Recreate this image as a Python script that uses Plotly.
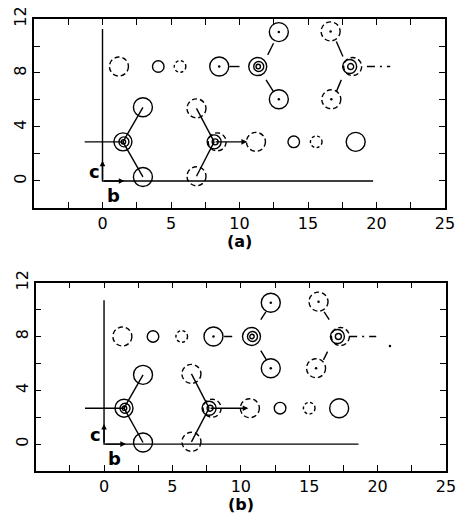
import plotly.graph_objects as go

# ---------------- data (panel a) ----------------
A_LARGE_SOLID_X = [8.52, 12.87, 12.87, 2.95, 2.95, 18.48]
A_LARGE_SOLID_Y = [8.48, 11.03, 6.05, 5.46, 0.30, 2.90]
A_LARGE_DASHED_X = [1.20, 16.65, 16.70, 6.86, 6.86, 11.20]
A_LARGE_DASHED_Y = [8.48, 11.08, 6.05, 5.38, 0.35, 2.90]
A_SMALL_SOLID_X = [4.07, 13.96]
A_SMALL_SOLID_Y = [8.48, 2.90]
A_SMALL_DASHED_X = [5.66, 15.60]
A_SMALL_DASHED_Y = [8.48, 2.90]
A_COMPLEX_SOLID_X = [11.33, 1.49]
A_COMPLEX_SOLID_Y = [8.48, 2.90]
A_COMPLEX_DASHED_X = [18.04, 8.15]
A_COMPLEX_DASHED_Y = [8.48, 2.90]
A_CENTER_DOT_X = [8.52, 12.87, 12.87, 16.65, 16.70]
A_CENTER_DOT_Y = [8.48, 11.03, 6.05, 11.08, 6.05]
# bonds: (x0, y0, x1, y1)
A_BONDS_SOLID = [(-1.30, 2.90, 1.49, 2.90), (1.49, 2.90, 2.95, 5.46), (1.49, 2.90, 2.95, 0.30),
                 (8.15, 2.90, 6.86, 5.38), (8.15, 2.90, 6.86, 0.35),
                 (9.26, 8.48, 10.00, 8.48), (12.06, 9.34, 12.48, 10.20), (11.94, 7.49, 12.48, 6.62),
                 (17.55, 9.22, 17.07, 10.33), (17.43, 7.49, 17.07, 6.62)]
A_BONDS_DASHED = [(19.30, 8.48, 21.00, 8.48)]
A_ARROW = (8.15, 2.90, 10.55, 2.90)
A_AXIS_B_END = 19.75
A_AXIS_C_END = 11.25

# ---------------- data (panel b) ----------------
B_LARGE_SOLID_X = [8.00, 12.19, 12.19, 2.85, 2.85, 17.19]
B_LARGE_SOLID_Y = [8.00, 10.51, 5.64, 5.15, 0.12, 2.67]
B_LARGE_DASHED_X = [1.34, 15.68, 15.50, 6.39, 6.39, 10.66]
B_LARGE_DASHED_Y = [8.00, 10.59, 5.64, 5.22, 0.17, 2.67]
B_SMALL_SOLID_X = [3.58, 12.87]
B_SMALL_SOLID_Y = [8.00, 2.67]
B_SMALL_DASHED_X = [5.68, 15.00]
B_SMALL_DASHED_Y = [8.00, 2.67]
B_COMPLEX_SOLID_X = [10.78, 1.46]
B_COMPLEX_SOLID_Y = [8.00, 2.67]
B_COMPLEX_DASHED_X = [17.06, 7.68]
B_COMPLEX_DASHED_Y = [8.00, 2.67]
B_CENTER_DOT_X = [8.00, 12.19, 12.19, 15.68, 15.50, 20.90]
B_CENTER_DOT_Y = [8.00, 10.51, 5.64, 10.59, 5.64, 7.30]
B_BONDS_SOLID = [(-1.39, 2.67, 1.46, 2.67), (1.46, 2.67, 2.85, 5.15), (1.46, 2.67, 2.85, 0.12),
                 (7.68, 2.67, 6.39, 5.22), (7.68, 2.67, 6.39, 0.17),
                 (8.78, 8.00, 9.37, 8.00), (11.46, 9.26, 11.83, 9.83), (11.46, 6.95, 11.87, 6.26),
                 (16.46, 9.26, 16.09, 9.83), (16.34, 6.88, 16.04, 6.26)]
B_BONDS_DASHED = [(17.92, 8.00, 19.90, 8.00)]
B_ARROW = (7.68, 2.67, 10.55, 2.67)
B_AXIS_B_END = 18.60
B_AXIS_C_END = 10.70

X_TICKS = [0, 5, 10, 15, 20, 25]
Y_TICKS = [0, 4, 8, 12]

# ---------------- styles ----------------
R_LARGE = 9.5
R_SMALL = 5.8
LW = 1.4
DASH_L = "5px,3px"
DASH_S = "3px,2.5px"

fig = go.Figure()
shapes = []
annotations = []


def circle(xr, yr, cx, cy, r, dash="solid", dx=0.0):
    shapes.append(dict(type="circle", xref=xr, yref=yr, xsizemode="pixel", ysizemode="pixel",
                       xanchor=cx, yanchor=cy, x0=-r + dx, x1=r + dx, y0=-r, y1=r,
                       line=dict(color="black", width=LW, dash=dash), layer="above"))


def panel(xr, yr, ls, ld, ss, sd, cs, cd, dots, bs, bd, arrow, bend, cend):
    xa, ya = xr, yr
    for x, y in zip(*ls):
        circle(xr, yr, x, y, R_LARGE)
    for x, y in zip(*ld):
        circle(xr, yr, x, y, R_LARGE, DASH_L)
    for x, y in zip(*ss):
        circle(xr, yr, x, y, R_SMALL)
    for x, y in zip(*sd):
        circle(xr, yr, x, y, R_SMALL, DASH_S)
    for x, y in zip(*cs):
        circle(xr, yr, x, y, 9.0)
        circle(xr, yr, x, y, 5.0, dx=1.0)
        circle(xr, yr, x, y, 2.2, dx=0.5)
    for x, y in zip(*cd):
        circle(xr, yr, x, y, 7.0)
        circle(xr, yr, x, y, 9.0, DASH_L, dx=3.0)
        circle(xr, yr, x, y, 3.0, dx=1.0)
    # axis frame lines (b and c)
    fig.add_trace(go.Scatter(x=[0, 0, bend], y=[cend, 0, 0], mode="lines",
                             line=dict(color="black", width=LW), xaxis=xa, yaxis=ya,
                             showlegend=False, hoverinfo="skip"))
    for (x0, y0, x1, y1) in bs:
        fig.add_trace(go.Scatter(x=[x0, x1], y=[y0, y1], mode="lines",
                                 line=dict(color="black", width=LW), xaxis=xa, yaxis=ya,
                                 showlegend=False, hoverinfo="skip"))
    for (x0, y0, x1, y1) in bd:
        fig.add_trace(go.Scatter(x=[x0, x1], y=[y0, y1], mode="lines",
                                 line=dict(color="black", width=LW, dash="8px,5px,2px,5px"),
                                 xaxis=xa, yaxis=ya, showlegend=False, hoverinfo="skip"))
    fig.add_trace(go.Scatter(x=dots[0], y=dots[1], mode="markers",
                             marker=dict(color="black", size=2.5), xaxis=xa, yaxis=ya,
                             showlegend=False, hoverinfo="skip"))
    # arrows
    x0, y0, x1, y1 = arrow
    for (ax_, ay_, tx, ty) in [(x0, y0, x1, y1), (0, 0, 0, 1.5), (0, 0, 1.6, 0)]:
        annotations.append(dict(x=tx, y=ty, ax=ax_, ay=ay_, xref=xr, yref=yr,
                                axref=xr, ayref=yr, showarrow=True, arrowhead=2,
                                arrowsize=0.8, arrowwidth=LW, arrowcolor="black", text=""))
    annotations.append(dict(x=-0.6, y=0.7, xref=xr, yref=yr, text="<b>c</b>", showarrow=False,
                            font=dict(family="DejaVu Sans", size=18, color="black")))
    annotations.append(dict(x=0.8, y=-1.05, xref=xr, yref=yr, text="<b>b</b>", showarrow=False,
                            font=dict(family="DejaVu Sans", size=18, color="black")))


panel("x", "y",
      (A_LARGE_SOLID_X, A_LARGE_SOLID_Y), (A_LARGE_DASHED_X, A_LARGE_DASHED_Y),
      (A_SMALL_SOLID_X, A_SMALL_SOLID_Y), (A_SMALL_DASHED_X, A_SMALL_DASHED_Y),
      (A_COMPLEX_SOLID_X, A_COMPLEX_SOLID_Y), (A_COMPLEX_DASHED_X, A_COMPLEX_DASHED_Y),
      (A_CENTER_DOT_X, A_CENTER_DOT_Y), A_BONDS_SOLID, A_BONDS_DASHED, A_ARROW,
      A_AXIS_B_END, A_AXIS_C_END)
panel("x2", "y2",
      (B_LARGE_SOLID_X, B_LARGE_SOLID_Y), (B_LARGE_DASHED_X, B_LARGE_DASHED_Y),
      (B_SMALL_SOLID_X, B_SMALL_SOLID_Y), (B_SMALL_DASHED_X, B_SMALL_DASHED_Y),
      (B_COMPLEX_SOLID_X, B_COMPLEX_SOLID_Y), (B_COMPLEX_DASHED_X, B_COMPLEX_DASHED_Y),
      (B_CENTER_DOT_X, B_CENTER_DOT_Y), B_BONDS_SOLID, B_BONDS_DASHED, B_ARROW,
      B_AXIS_B_END, B_AXIS_C_END)

for lab, xr, yr in [("(a)", "x domain", "y domain"), ("(b)", "x2 domain", "y2 domain")]:
    annotations.append(dict(x=0.5, y=-0.178, xref=xr, yref=yr, text="<b>" + lab + "</b>",
                            showarrow=False, yanchor="middle",
                            font=dict(family="DejaVu Sans", size=16, color="black")))

tick_font = dict(family="DejaVu Sans", size=16, color="black")
xcommon = dict(range=[-5, 25], tickvals=X_TICKS, ticks="inside", ticklen=6, tickwidth=LW,
               tickcolor="black", showline=True, linecolor="black", linewidth=1.5,
               mirror="ticks", showgrid=False, zeroline=False, tickfont=tick_font,
               automargin=False,
               minor=dict(dtick=2.5, tick0=0, ticks="inside", ticklen=6, tickwidth=LW,
                          tickcolor="black", showgrid=False))
ycommon = dict(range=[-2, 12], tickvals=Y_TICKS, ticks="inside", ticklen=6, tickwidth=LW,
               tickcolor="black", showline=True, linecolor="black", linewidth=1.5,
               mirror="ticks", showgrid=False, zeroline=False, tickfont=tick_font,
               tickangle=-90, automargin=False,
               minor=dict(dtick=2, tick0=0, ticks="inside", ticklen=6, tickwidth=LW,
                          tickcolor="black", showgrid=False))

fig.update_layout(
    width=457, height=518,
    margin=dict(l=34, r=11, t=19, b=47, autoexpand=False),
    paper_bgcolor="white", plot_bgcolor="white",
    xaxis=dict(domain=[0, 0.9976], anchor="y", **xcommon),
    yaxis=dict(domain=[0.5819, 1.0], anchor="x", **ycommon),
    xaxis2=dict(domain=[0.004, 1.0], anchor="y2", **xcommon),
    yaxis2=dict(domain=[0.0, 0.4166], anchor="x2", **ycommon),
    shapes=shapes, annotations=annotations, showlegend=False,
)

fig.write_html("out.html", config={"displayModeBar": False},
               post_script="document.body.style.margin='0';document.body.style.overflow='hidden';")
